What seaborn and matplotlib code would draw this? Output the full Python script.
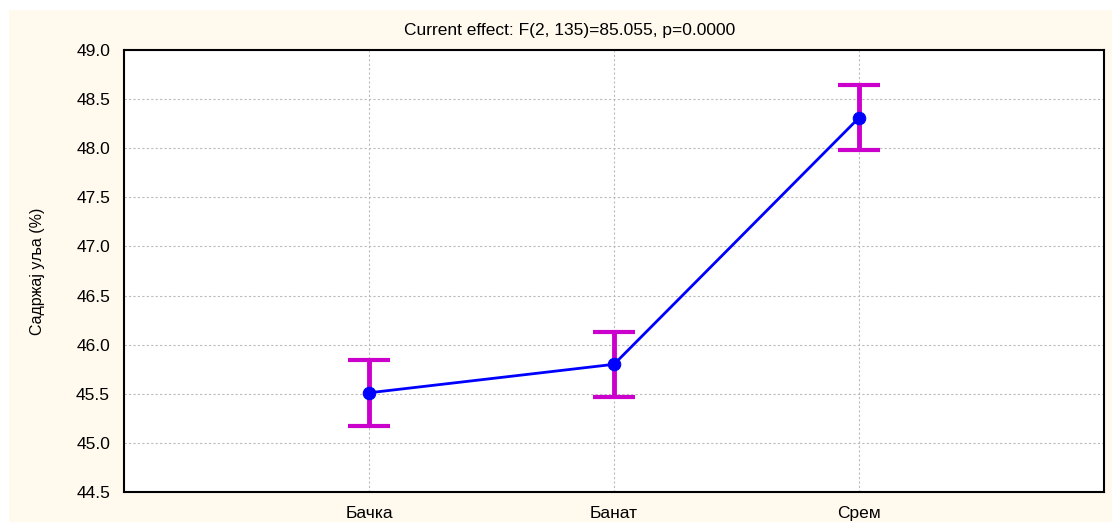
import matplotlib
matplotlib.use("Agg")
import matplotlib.pyplot as plt
import seaborn as sns
import pandas as pd

regions = ["Бачка", "Банат", "Срем"]
means = [45.51, 45.80, 48.31]
errors = [0.335, 0.33, 0.33]
yticks = [44.5, 45.0, 45.5, 46.0, 46.5, 47.0, 47.5, 48.0, 48.5, 49.0]

sns.set_style("whitegrid")
plt.rcParams["font.family"] = ["Liberation Sans", "DejaVu Sans"]
plt.rcParams["text.color"] = "black"
plt.rcParams["axes.labelcolor"] = "black"
plt.rcParams["xtick.color"] = "black"
plt.rcParams["ytick.color"] = "black"

df = pd.DataFrame({"pos": range(len(regions)), "mean": means})

fig = plt.figure(figsize=(11.12, 5.22), dpi=100)
fig.patch.set_facecolor("white")
# cream panel behind the chart
fig.patches.append(plt.Rectangle((9 / 1112, 0), 1, 1 - 10 / 522,
                                 transform=fig.transFigure,
                                 facecolor="#FFF9EE", edgecolor="none", zorder=-10))

ax = fig.add_axes([124 / 1112, 1 - 492 / 522, (1104 - 124) / 1112, (492 - 50) / 522])
ax.set_facecolor("white")
ax.set_zorder(1)

ax.errorbar(df["pos"], df["mean"], yerr=errors, fmt="none", ecolor="#CC00CC",
            elinewidth=3.5, capsize=15, capthick=3, zorder=3)
sns.lineplot(data=df, x="pos", y="mean", ax=ax, color="#0000FF", linewidth=2,
             marker="o", markersize=9, markeredgecolor="#0000FF", zorder=4)

ax.set_xlim(-1, 3)
ax.set_ylim(44.5, 49.0)
ax.set_xticks(range(len(regions)))
ax.set_xticklabels(regions)
ax.set_yticks(yticks)
ax.set_yticklabels([f"{v:.1f}" for v in yticks])
ax.set_xlabel("")
ax.set_ylabel("Садржај уља (%)", fontsize=11.5,
              family=["Liberation Sans Narrow", "Liberation Sans", "DejaVu Sans"])
ax.yaxis.set_label_coords(-0.0806, 0.5)

ax.grid(True, color="#BBBBBB", linestyle=(0, (2, 2)), linewidth=0.8)
ax.tick_params(axis="both", direction="in", length=5, width=1, color="black",
               labelsize=12.5, pad=10)
for s in ax.spines.values():
    s.set_color("black")
    s.set_linewidth(1.5)
    s.set_visible(True)

fig.text(570 / 1112, 1 - 30 / 522, "Current effect: F(2, 135)=85.055, p=0.0000",
         ha="center", va="center", fontsize=12.5)

fig.savefig("out.png", dpi=100)
